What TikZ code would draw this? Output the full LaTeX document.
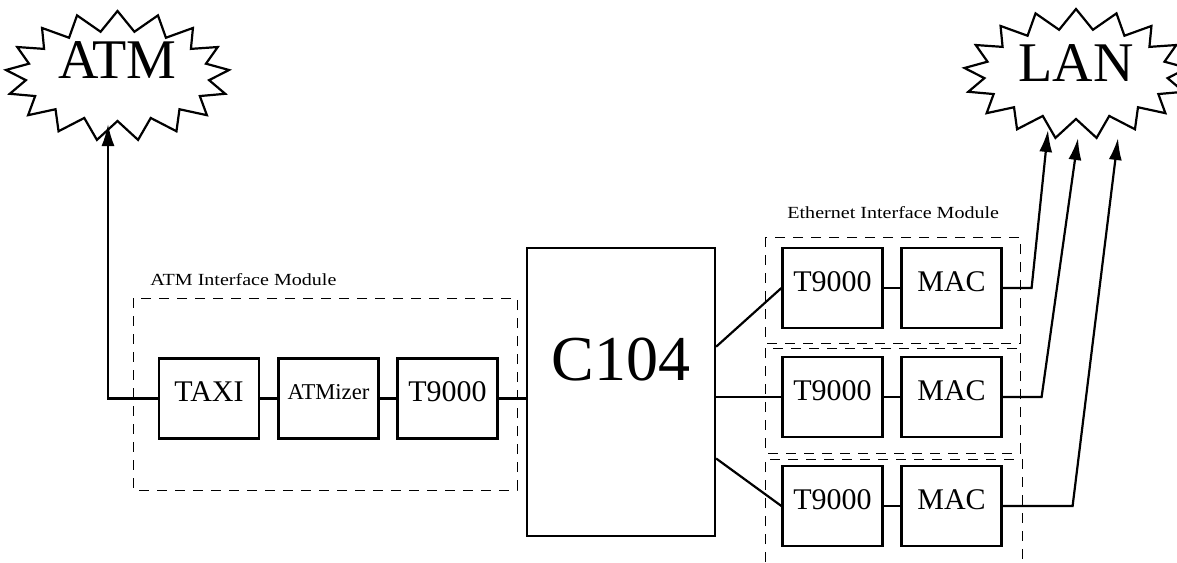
\documentclass[tikz,border=0pt]{standalone}
\usepackage{fontspec}
\setmainfont{Liberation Serif}
\newfontfamily\widefont[FakeStretch=1.18]{Liberation Serif}
\usetikzlibrary{shapes.symbols,arrows.meta,calc}
\newcommand{\liftup}[2]{\raisebox{#1}[\height][\depth]{#2}}

\tikzset{
  unit/.style={draw, line width=1.1pt, minimum width=50pt, minimum height=40pt, inner sep=0pt, text depth=6.5pt, font=\fontsize{15}{15}\selectfont},
  core/.style={draw, line width=1.1pt, minimum width=94pt, minimum height=144pt, inner sep=0pt, text depth=33pt, font=\fontsize{32}{32}\selectfont},
  net/.style={starburst, draw, line width=1.1pt, random starburst=0, starburst points=17, starburst point height=10pt, minimum width=112pt, minimum height=65pt, inner sep=0pt, font=\fontsize{28}{28}\selectfont},
  module/.style={draw, line width=0.5pt, dash pattern=on 5pt off 4pt},
  tag/.style={anchor=base west, inner sep=0pt, font=\widefont\fontsize{8.5}{10}\selectfont},
  wire/.style={line width=1.1pt},
  feed/.style={wire, -{Latex[length=11pt,width=6.5pt]}}
}

\begin{document}
\begin{tikzpicture}[x=0.5pt,y=-0.5pt]
\useasboundingbox (0,0) rectangle (1177,562);

% networks
\node[net] (atm) at (117.5,76) {\liftup{8pt}{ATM}};
\node[net] (lan) at (1076,74) {\liftup{5.5pt}{LAN}};
\coordinate (atmin) at (108,124);
\coordinate (lanin1) at (1048,130);
\coordinate (lanin2) at (1078,138);
\coordinate (lanin3) at (1118,138);

% ATM interface module
\draw[module] (133,298) rectangle (517,490);
\node[tag] (atmtag) at (150,285) {ATM Interface Module};
\node[unit] (taxi) at (209,398.5) {TAXI};
\node[unit, font=\fontsize{11.3}{12}\selectfont] (atmizer) at (328.5,398.5) {ATMizer};
\node[unit] (atmt) at (447.5,398.5) {T9000};

% switch
\node[core] (c104) at (621,392) {C104};

% Ethernet interface module
\draw[module] (765,237) rectangle (1020,343);
\draw[module] (765,348) rectangle (1020,453);
\draw[module] (765,562) |- (1022,459) -- (1022,562);
\node[tag] (ethtag) at (787,218) {Ethernet Interface Module};
\node[unit] (ta) at (832.5,288) {T9000};
\node[unit] (ma) at (951.5,288) {MAC};
\node[unit] (tb) at (832.5,397) {T9000};
\node[unit] (mb) at (951.5,397) {MAC};
\node[unit] (tc) at (832.5,506) {T9000};
\node[unit] (mc) at (951.5,506) {MAC};

% links
\draw[feed] (taxi.west) -| (atmin);
\draw[wire] (taxi) -- (atmizer);
\draw[wire] (atmizer) -- (atmt);
\draw[wire] (atmt.east) -- (atmt.east -| c104.west);

\draw[wire] ($(c104.north east)!0.344!(c104.south east)$) -- (ta.west);
\draw[wire] (tb.west -| c104.east) -- (tb.west);
\draw[wire] ($(c104.north east)!0.729!(c104.south east)$) -- (tc.west);
\draw[wire] (ta) -- (ma);
\draw[wire] (tb) -- (mb);
\draw[wire] (tc) -- (mc);

\draw[feed] (ma.east) -- ++(29,0) -- (lanin1);
\draw[feed] (mb.east) -- ++(39,0) -- (lanin2);
\draw[feed] (mc.east) -- ++(70,0) -- (lanin3);

\end{tikzpicture}
\end{document}
